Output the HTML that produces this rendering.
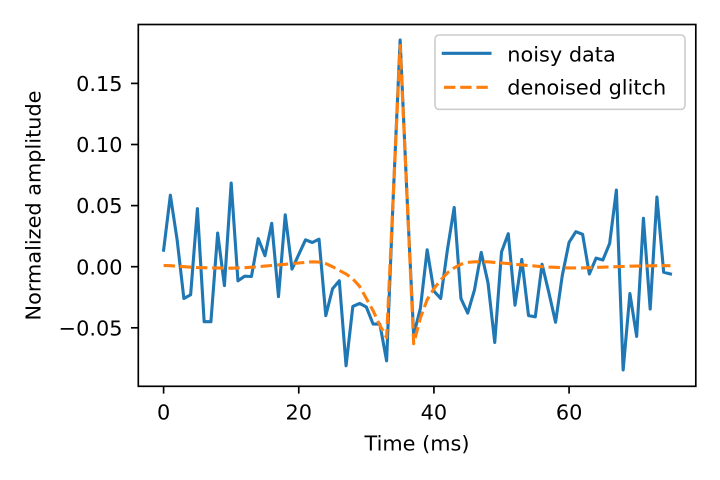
<!DOCTYPE html>
<html>
<head>
<meta charset="utf-8">
<style>
html,body{margin:0;padding:0;background:#fff;}
svg{display:block;}
text{font-family:"DejaVu Sans","Liberation Sans",sans-serif;font-size:20.83px;fill:#000;}
</style>
</head>
<body>
<svg width="720" height="480" viewBox="0 0 720 480" xmlns="http://www.w3.org/2000/svg">
<rect x="0" y="0" width="720" height="480" fill="#fff"/>
<defs>
<clipPath id="ax"><rect x="138.3" y="24.5" width="557.5" height="361.8"/></clipPath>
</defs>
<g clip-path="url(#ax)" fill="none" stroke-linejoin="round">
<polyline stroke="#1f77b4" stroke-width="3.1" stroke-linecap="square" points="163.6,250.2 170.36,195.2 177.12,239.8 183.87,298.5 190.63,294.8 197.39,208.7 204.15,321.7 210.91,321.7 217.66,233.1 224.42,285.6 231.18,183.0 237.94,280.8 244.70,276.2 251.45,276.5 258.21,238.6 264.97,255.7 271.73,223.3 278.49,296.6 285.24,214.8 292.00,269.1 298.76,254.5 305.52,239.8 312.28,242.5 319.03,239.2 325.79,315.6 332.55,288.7 339.31,280.8 346.07,365.7 352.82,306.4 359.58,303.4 366.34,307.0 373.10,324.1 379.86,324.1 386.61,360.8 393.37,193.4 400.13,40.0 406.89,193.4 413.65,335.1 420.40,308.3 427.16,249.8 433.92,291.1 440.68,298.5 447.44,249.6 454.19,207.4 460.95,298.5 467.71,313.1 474.47,289.9 481.23,252.4 487.98,282.6 494.74,342.5 501.50,252.0 508.26,233.7 515.02,305.2 521.77,259.4 528.53,315.6 535.29,316.8 542.05,264.3 548.81,292.4 555.56,322.3 562.32,275.3 569.08,242.3 575.84,231.7 582.60,234.3 589.35,274.0 596.11,258.1 602.87,260.0 609.63,243.5 616.39,190.1 623.14,370.0 629.90,293.6 636.66,336.4 643.42,218.3 650.18,309.0 656.93,197.0 663.69,272.3 670.45,274.0"/>
<polyline stroke="#ff7f0e" stroke-width="3.1" stroke-dasharray="11.4,4.8" points="163.6,265.5 170.36,265.7 177.12,266.2 183.87,266.7 190.63,267.2 197.39,267.6 204.15,267.7 210.91,267.9 217.66,267.9 224.42,268.2 231.18,268.2 237.94,267.9 244.70,267.7 251.45,267.2 258.21,266.7 264.97,266.1 271.73,265.5 278.49,264.9 285.24,264.3 292.00,263.6 298.76,263.0 305.52,262.4 312.28,261.8 319.03,262.1 325.79,263.6 332.55,266.7 339.31,270.4 346.07,274.0 352.82,278.9 359.58,286.3 366.34,298.5 373.10,310.7 379.86,325.4 386.61,337.6 393.37,193.4 400.13,45.5 406.89,193.4 413.65,343.7 420.40,318.0 427.16,299.7 433.92,288.7 440.68,280.1 447.44,272.8 454.19,267.9 460.95,264.3 467.71,262.4 474.47,261.8 481.23,261.8 487.98,261.8 494.74,262.4 501.50,263.0 508.26,263.6 515.02,264.3 521.77,264.9 528.53,265.5 535.29,266.1 542.05,266.7 548.81,267.1 555.56,267.3 562.32,267.7 569.08,267.9 575.84,267.9 582.60,267.9 589.35,267.7 596.11,267.4 602.87,267.2 609.63,266.9 616.39,266.7 623.14,266.5 629.90,266.2 636.66,266.1 643.42,266.0 650.18,265.8 656.93,265.7 663.69,265.7 670.45,265.7"/>
</g>
<!-- spines -->
<rect x="138.3" y="24.5" width="557.5" height="361.8" fill="none" stroke="#000" stroke-width="1.67"/>
<!-- x ticks -->
<g stroke="#000" stroke-width="1.67">
<line x1="163.6" y1="386.3" x2="163.6" y2="393.6"/>
<line x1="298.76" y1="386.3" x2="298.76" y2="393.6"/>
<line x1="433.92" y1="386.3" x2="433.92" y2="393.6"/>
<line x1="569.08" y1="386.3" x2="569.08" y2="393.6"/>
<line x1="131" y1="83.4" x2="138.3" y2="83.4"/>
<line x1="131" y1="144.5" x2="138.3" y2="144.5"/>
<line x1="131" y1="205.6" x2="138.3" y2="205.6"/>
<line x1="131" y1="266.7" x2="138.3" y2="266.7"/>
<line x1="131" y1="327.8" x2="138.3" y2="327.8"/>
</g>
<g text-anchor="middle">
<text x="163.6" y="419.3">0</text>
<text x="298.76" y="419.3">20</text>
<text x="433.92" y="419.3">40</text>
<text x="569.08" y="419.3">60</text>
<text x="417" y="450.5">Time (ms)</text>
</g>
<g text-anchor="end">
<text x="122.5" y="91">0.15</text>
<text x="122.5" y="152.1">0.10</text>
<text x="122.5" y="213.2">0.05</text>
<text x="122.5" y="274.3">0.00</text>
<text x="122.5" y="335.4">−0.05</text>
</g>
<text transform="translate(40.5,205.5) rotate(-90)" text-anchor="middle">Normalized amplitude</text>
<!-- legend -->
<rect x="435" y="35" width="250" height="74.3" rx="4" ry="4" fill="#fff" fill-opacity="0.8" stroke="#cccccc" stroke-width="1.6"/>
<line x1="443.3" y1="53.3" x2="490" y2="53.3" stroke="#1f77b4" stroke-width="3.1" stroke-linecap="square"/>
<line x1="444" y1="87.3" x2="490" y2="87.3" stroke="#ff7f0e" stroke-width="3.1" stroke-dasharray="11.4,4.8"/>
<text x="507.3" y="61.5">noisy data</text>
<text x="507.3" y="94.5">denoised glitch</text>
</svg>
</body>
</html>
